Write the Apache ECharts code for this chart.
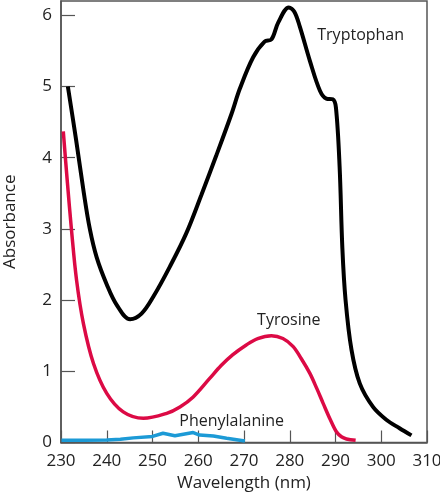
<!DOCTYPE html>
<html>
<head>
<meta charset="utf-8">
<script src="https://cdn.jsdelivr.net/npm/echarts@6/dist/echarts.min.js"></script>
<style>
  html, body { margin: 0; padding: 0; background: #fff; }
  #main { width: 440px; height: 495px; }
</style>
</head>
<body>
<div id="main"></div>
<script>
// absorbance readings, [wavelength nm, absorbance]
var tryptophan = [
  [231.5, 5.0], [233.3, 4.25], [235, 3.5], [236.3, 3.0], [237.8, 2.6], [240, 2.22],
  [242.2, 1.93], [245.1, 1.73], [247.6, 1.81], [250.2, 2.05], [253.8, 2.47], [257.4, 2.94],
  [260.7, 3.48], [264, 4.04], [267.3, 4.62], [269.1, 4.97], [272, 5.41], [274.5, 5.63],
  [276, 5.66], [277.5, 5.9], [279.8, 6.11], [281, 6.05], [282.2, 5.84], [284.4, 5.36],
  [286.6, 4.94], [288, 4.83], [289.4, 4.82], [290.1, 4.7], [290.9, 3.87], [291.5, 2.73],
  [292.2, 2.0], [293.5, 1.3], [295.3, 0.83], [298.2, 0.5], [301.1, 0.32], [304, 0.2],
  [306.6, 0.1]
]
var tyrosine = [
  [230.5, 4.37], [231.4, 3.65], [232.3, 2.98], [233.4, 2.28], [234.9, 1.67], [237.1, 1.11],
  [240, 0.69], [243.6, 0.43], [248, 0.34], [253.1, 0.41], [256, 0.5], [258.9, 0.64],
  [262.5, 0.9], [265, 1.08], [267.5, 1.23], [270.5, 1.37], [273, 1.46], [276, 1.5],
  [278.5, 1.46], [280.7, 1.35], [282.5, 1.18], [284.4, 0.97], [285.9, 0.76], [287.3, 0.55],
  [288.8, 0.33], [290.2, 0.15], [291.3, 0.08], [292.4, 0.05], [294.4, 0.03]
]
var phenylalanine = [
  [230.1, 0.03], [235, 0.03], [240, 0.035], [243, 0.045], [245.8, 0.065], [250, 0.085],
  [252.3, 0.13], [254.9, 0.095], [258.9, 0.14], [260.3, 0.105], [263.3, 0.09],
  [266.2, 0.06], [270.2, 0.02]
]
// where the curve names sit (data coords)
var names = ['Tryptophan', 'Tyrosine', 'Phenylalanine']
var namePos = [[295.5, 5.71], [279.8, 1.72], [267.3, 0.30]]

var font = '"Open Sans", "Noto Sans", sans-serif'
var axisGray = '#555'

function nameMark(i) {
  return {
    symbol: 'circle',
    symbolSize: 1,
    itemStyle: { color: 'rgba(0,0,0,0)' },
    label: {
      show: true,
      position: 'inside',
      formatter: names[i],
      color: '#222',
      fontSize: 16,
      fontFamily: font
    },
    data: [{ coord: namePos[i] }]
  }
}

function lineSeries(i, data, color, width, smooth) {
  return {
    name: names[i],
    type: 'line',
    data: data,
    smooth: smooth,
    showSymbol: false,
    lineStyle: { color: color, width: width },
    z: 3 - i,
    markPoint: nameMark(i)
  }
}

var chart = echarts.init(document.getElementById('main'))
chart.setOption({
  animation: false,
  grid: {
    left: 61, right: 13, top: 1, bottom: 52.5,
    outerBoundsMode: 'none',
    containLabel: false,
    show: true, borderColor: axisGray, borderWidth: 1.5
  },
  xAxis: {
    type: 'value',
    min: 230, max: 310, interval: 10,
    name: 'Wavelength (nm)',
    nameLocation: 'middle',
    nameGap: 31,
    nameTextStyle: { fontSize: 17, color: '#222', fontFamily: font },
    axisLine: { lineStyle: { color: axisGray, width: 1.5 } },
    axisTick: { inside: true, length: 12, lineStyle: { color: axisGray, width: 1.2 } },
    axisLabel: { fontSize: 17, color: '#222', fontFamily: font, margin: 10 },
    splitLine: { show: false }
  },
  yAxis: {
    type: 'value',
    min: 0, max: 6.2, interval: 1,
    name: 'Absorbance',
    nameLocation: 'middle',
    nameGap: 42,
    nameTextStyle: { fontSize: 17, color: '#222', fontFamily: font },
    axisLine: { show: true, lineStyle: { color: axisGray, width: 1.5 } },
    axisTick: { show: true, inside: true, length: 14, lineStyle: { color: axisGray, width: 1.2 } },
    axisLabel: { fontSize: 17, color: '#222', fontFamily: font, margin: 9, showMaxLabel: false },
    splitLine: { show: false }
  },
  series: [
    lineSeries(0, tryptophan, '#000', 4, 0.35),
    lineSeries(1, tyrosine, '#dc0a45', 3.5, 0.35),
    lineSeries(2, phenylalanine, '#1c9ad6', 3.5, false)
  ]
})
</script>
</body>
</html>
